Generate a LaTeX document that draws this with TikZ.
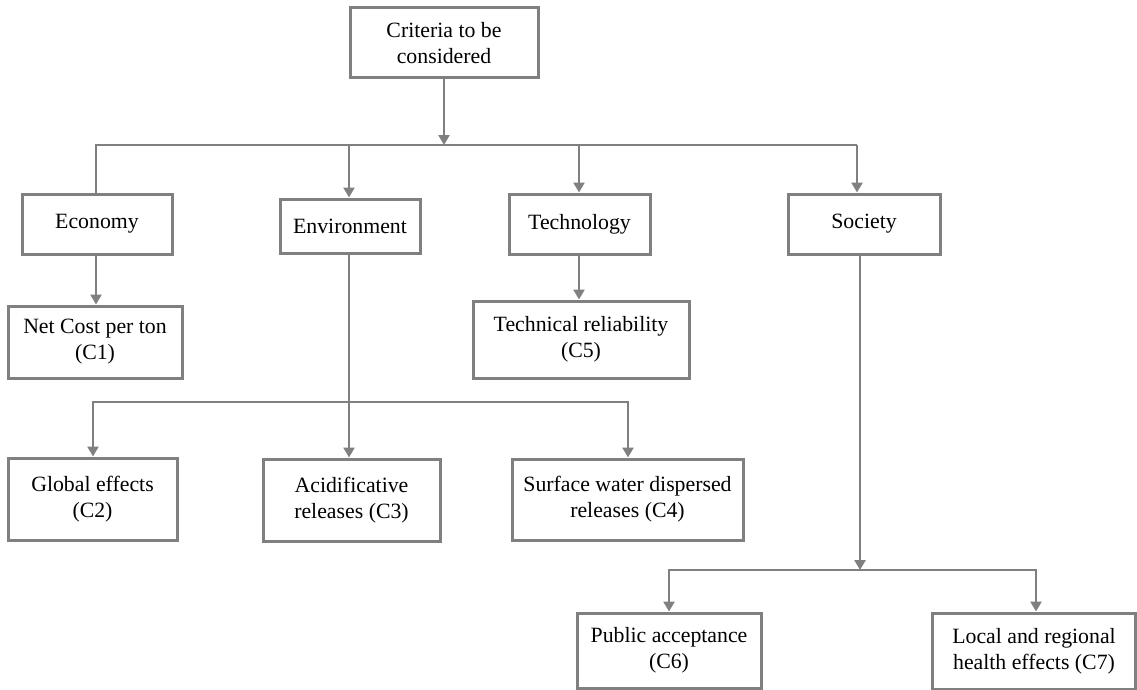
\documentclass[tikz,border=0pt]{standalone}
\usepackage{fontspec}
\setmainfont{Liberation Serif}
\usetikzlibrary{arrows.meta,shadows}
\definecolor{lc}{RGB}{128,128,128}
\tikzset{
  box/.style={draw=lc, line width=3pt, fill=white, align=center, inner sep=2pt,
    font=\fontsize{21.8}{26}\selectfont,
    drop shadow={shadow xshift=1.5pt, shadow yshift=-1.5pt, fill=black!25, opacity=0.6}},
  conn/.style={draw=lc, line width=2.5pt},
  arr/.style={conn, -{Triangle[length=10pt,width=11pt]}},
}
\begin{document}
\begin{tikzpicture}[x=1pt,y=-1pt]
\useasboundingbox (0,0) rectangle (1137,690);
\newcommand{\bx}[6]{\node[box, minimum width=#4pt, minimum height=#5pt] (#1) at (#2,#3) {#6};}
\bx{crit}{444}{43}{188}{70}{Criteria to be\\considered}
\bx{eco}{97}{224}{150}{60}{Economy}
\bx{env}{350}{226}{140}{54}{Environment}
\bx{tech}{579.5}{224}{141}{60}{Technology}
\bx{soc}{864}{224}{152}{60}{Society}
\bx{c1}{95}{342}{174}{72}{Net Cost per ton\\(C1)}
\bx{c5}{581}{339.5}{216}{77}{Technical reliability\\(C5)}
\bx{c2}{92.5}{499}{169}{82}{Global effects\\(C2)}
\bx{c3}{351.5}{500}{177}{82}{Acidificative\\releases (C3)}
\bx{c4}{627.5}{499.5}{231}{81}{Surface water dispersed\\releases (C4)}
\bx{c6}{669}{650.5}{184}{75}{Public acceptance\\(C6)}
\bx{c7}{1034}{651}{203}{76}{Local and regional\\health effects (C7)}
% top bus
\coordinate (j0) at (444,145);
\coordinate (e0) at (96,145);
\coordinate (v0) at (349,145);
\coordinate (t0) at (579,145);
\coordinate (s0) at (857,145);
\draw[arr] (crit.south) -- (j0);
\draw[conn] (e0 |- eco.north) -- (e0) -- (s0);
\draw[arr] (v0) -- (v0 |- env.north);
\draw[arr] (t0) -- (t0 |- tech.north);
\draw[arr] (s0) -- (s0 |- soc.north);
% economy, technology
\coordinate (e1) at (96,254);
\draw[arr] (e1 |- eco.south) -- (e1 |- c1.north);
\draw[arr] (t0 |- tech.south) -- (t0 |- c5.north);
% environment
\coordinate (b1) at (349,402);
\coordinate (b1l) at (93,402);
\coordinate (b1r) at (628,402);
\draw[arr] (b1 |- env.south) -- (b1 |- c3.north);
\draw[arr] (b1) -- (b1l) -- (b1l |- c2.north);
\draw[arr] (b1) -- (b1r) -- (b1r |- c4.north);
% society
\coordinate (b2) at (860,570);
\coordinate (b2l) at (669,570);
\coordinate (b2r) at (1036,570);
\draw[arr] (b2 |- soc.south) -- (b2);
\draw[arr] (b2) -- (b2l) -- (b2l |- c6.north);
\draw[arr] (b2) -- (b2r) -- (b2r |- c7.north);
\end{tikzpicture}
\end{document}
